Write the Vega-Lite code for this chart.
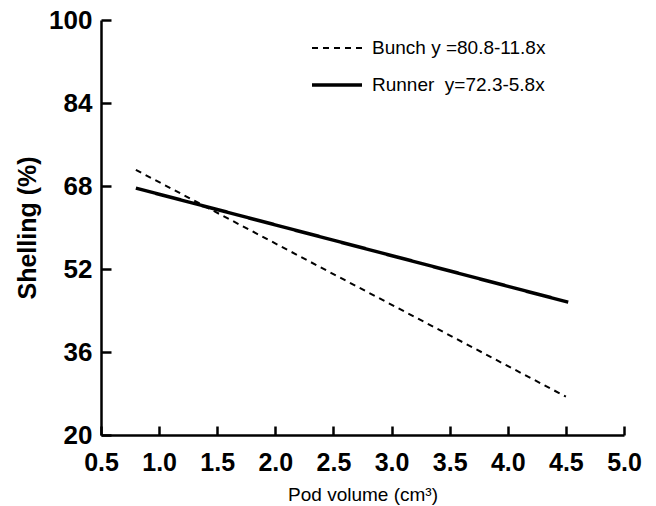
{
  "$schema": "https://vega.github.io/schema/vega-lite/v6.json",
  "width": 523,
  "height": 415,
  "autosize": {"type": "none"},
  "padding": {"left": 101, "top": 20, "right": 32, "bottom": 71},
  "background": "white",
  "config": {
    "view": {"stroke": null},
    "font": "Liberation Sans"
  },
  "data": {
    "values": [
      {"series": "Bunch y =80.8-11.8x", "pod": 0.8, "shelling": 71.1},
      {"series": "Bunch y =80.8-11.8x", "pod": 4.5, "shelling": 27.4},
      {"series": "Runner\u00a0\u00a0y=72.3-5.8x", "pod": 0.8, "shelling": 67.6},
      {"series": "Runner\u00a0\u00a0y=72.3-5.8x", "pod": 4.52, "shelling": 45.6}
    ]
  },
  "resolve": {"axis": {"x": "independent", "y": "independent"}},
  "layer": [
    {
      "mark": {"type": "line", "color": "black"},
      "encoding": {
        "x": {
          "field": "pod",
          "type": "quantitative",
          "scale": {"domain": [0.5, 5.0], "nice": false, "zero": false},
          "axis": {
            "orient": "bottom",
            "title": "Pod volume (cm³)",
            "values": [0.5, 1.0, 1.5, 2.0, 2.5, 3.0, 3.5, 4.0, 4.5, 5.0],
            "format": ".1f",
            "grid": false,
            "ticks": false,
            "domainColor": "black",
            "domainWidth": 2.5,
            "labelPadding": 15,
            "labelFontSize": 25,
            "labelFontWeight": "bold",
            "labelColor": "black",
            "labelFlush": false,
            "labelOverlap": false,
            "titleFontSize": 19,
            "titleFontWeight": "normal",
            "titleColor": "black",
            "titlePadding": 10
          }
        },
        "y": {
          "field": "shelling",
          "type": "quantitative",
          "scale": {"domain": [20, 100], "nice": false, "zero": false},
          "axis": {
            "orient": "left",
            "title": "Shelling (%)",
            "values": [20, 36, 52, 68, 84, 100],
            "grid": false,
            "ticks": false,
            "domainColor": "black",
            "domainWidth": 2.5,
            "labelPadding": 9,
            "labelFontSize": 26,
            "labelFontWeight": "bold",
            "labelColor": "black",
            "labelFlush": false,
            "labelOverlap": false,
            "titleFontSize": 25,
            "titleFontWeight": "bold",
            "titleColor": "black",
            "titlePadding": 8
          }
        },
        "strokeDash": {
          "field": "series",
          "type": "nominal",
          "scale": {"range": [[6, 5], [1, 0]]},
          "legend": {
            "title": null,
            "orient": "none",
            "legendX": 209,
            "legendY": 2,
            "symbolType": "stroke",
            "symbolSize": 2500,
            "symbolStrokeColor": "black",
            "labelFontSize": 19,
            "labelColor": "black",
            "labelOffset": 8,
            "labelLimit": 400,
            "rowPadding": -15
          }
        },
        "strokeWidth": {
          "field": "series",
          "type": "nominal",
          "scale": {"range": [2, 3.5]},
          "legend": {
            "title": null,
            "orient": "none",
            "legendX": 209,
            "legendY": 2,
            "symbolType": "stroke",
            "symbolSize": 2500,
            "symbolStrokeColor": "black",
            "labelFontSize": 19,
            "labelColor": "black",
            "labelOffset": 8,
            "labelLimit": 400,
            "rowPadding": -15
          }
        }
      }
    },
    {
      "mark": {"type": "line", "opacity": 0},
      "encoding": {
        "x": {
          "field": "pod",
          "type": "quantitative",
          "axis": {
            "orient": "top",
            "offset": -415,
            "title": null,
            "values": [0.5, 1.0, 1.5, 2.0, 2.5, 3.0, 3.5, 4.0, 4.5, 5.0],
            "labels": false,
            "domain": false,
            "grid": false,
            "ticks": true,
            "tickSize": 9,
            "tickWidth": 2.5,
            "tickColor": "black"
          }
        },
        "y": {
          "field": "shelling",
          "type": "quantitative",
          "axis": {
            "orient": "right",
            "offset": -523,
            "title": null,
            "values": [20, 36, 52, 68, 84, 100],
            "labels": false,
            "domain": false,
            "grid": false,
            "ticks": true,
            "tickSize": 10,
            "tickWidth": 2.5,
            "tickColor": "black"
          }
        },
        "detail": {"field": "series", "type": "nominal"}
      }
    }
  ]
}
